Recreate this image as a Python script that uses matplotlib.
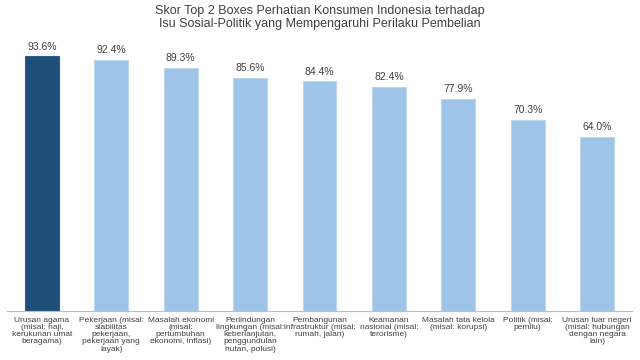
import matplotlib
matplotlib.use("Agg")
import matplotlib.pyplot as plt

categories = [
    "Urusan agama\n(misal: haji,\nkerukunan umat\nberagama)",
    "Pekerjaan (misal:\nstabilitas\npekerjaan,\npekerjaan yang\nlayak)",
    "Masalah ekonomi\n(misal:\npertumbuhan\nekonomi, inflasi)",
    "Perlindungan\nlingkungan (misal:\nkeberlanjutan,\npenggundulan\nhutan, polusi)",
    "Pembangunan\ninfrastruktur (misal:\nrumah, jalan)",
    "Keamanan\nnasional (misal:\nterorisme)",
    "Masalah tata kelola\n(misal: korupsi)",
    "Politik (misal:\npemilu)",
    "Urusan luar negeri\n(misal: hubungan\ndengan negara\nlain)",
]
values = [93.6, 92.4, 89.3, 85.6, 84.4, 82.4, 77.9, 70.3, 64.0]
title = "Skor Top 2 Boxes Perhatian Konsumen Indonesia terhadap\nIsu Sosial-Politik yang Mempengaruhi Perilaku Pembelian"

plt.rcParams['font.family'] = ['Liberation Sans', 'DejaVu Sans']

fig = plt.figure(figsize=(6.4, 3.6), dpi=100)
ax = fig.add_axes([7.3/640, 49/360, 624.4/640, 272/360])

colors = ["#1F4E79"] + ["#9DC3E6"] * (len(values) - 1)
edges = ["#2E5F8F"] + ["#BDD7EE"] * (len(values) - 1)
x = list(range(len(values)))
bars = ax.bar(x, values, width=0.49, color=colors, edgecolor=edges, linewidth=0.8)
for xi, v in zip(x, values):
    ax.text(xi, v + 1.8, f"{v:.1f}%", ha="center", va="bottom", fontsize=7.5, color="#404040")

ax.set_xlim(-0.5, len(values) - 0.5)
ax.set_ylim(0, 100)
ax.set_yticks([])
ax.set_xticks(x)
ax.set_xticklabels(categories, fontsize=6, color="#404040", linespacing=1.05)
ax.tick_params(axis="x", length=0, pad=4)
for s in ["top", "right", "left"]:
    ax.spines[s].set_visible(False)
ax.spines["bottom"].set_color("#BFBFBF")
ax.spines["bottom"].set_linewidth(0.8)

fig.text(0.5, 0.985, title, ha="center", va="top", fontsize=9, color="#404040", linespacing=1.05)

fig.savefig("out.png", dpi=100)
